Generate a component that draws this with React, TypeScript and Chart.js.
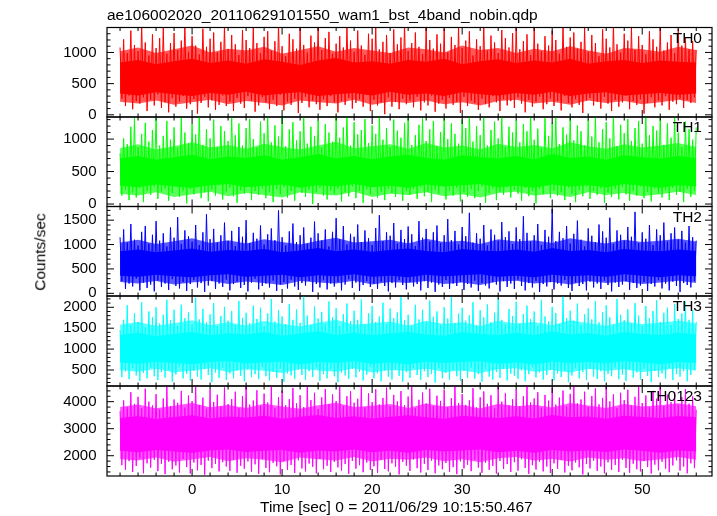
import React, { useEffect, useRef } from "react";
import { Chart, registerables } from "chart.js";

Chart.register(...registerables);

// ---------- data ----------
const titleText = "ae106002020_20110629101550_wam1_bst_4band_nobin.qdp";
const xLabelText = "Time [sec] 0 = 2011/06/29 10:15:50.467";
const yLabelText = "Counts/sec";

const seriesNames = ["TH0", "TH1", "TH2", "TH3", "TH0123"];
const seriesColors = ["#ff0000", "#00ff00", "#0000ff", "#00ffff", "#ff00ff"];
const seriesFringe = ["rgba(255,0,0,0.65)", "rgba(0,255,0,0.65)", "rgba(0,0,255,0.65)", "rgba(0,255,255,0.65)", "rgba(255,0,255,0.65)"];

// light-curve samples: start time and bin width (sec)
const traceStart = -8;
const traceBin = 0.2;
const bandBin = 2;

const th0Trace = [
  1080, 260, 1210, 140, 990, 310, 1350, 90, 1120, 220, 1020, 180, 1440, 280, 1160, 60, 950, 240, 1290, 150,
  1070, 330, 1230, 110, 1400, 200, 980, 40, 1150, 270, 1310, 130, 1040, 210, 1190, 300, 1460, 100, 1010, 170,
  1260, 250, 1110, 20, 970, 190, 1380, 290, 1090, 120, 1220, 230, 1320, 80, 1000, 160, 1170, 310, 1430, 140,
  1050, 210, 1280, 60, 1130, 270, 960, 180, 1360, 110, 1200, 300, 1070, 230, 1410, 50, 1150, 150, 990, 280,
  1250, 200, 1340, 90, 1030, 240, 1180, 140, 1450, 320, 1100, 70, 940, 210, 1300, 160, 1210, 260, 1060, 30,
  1390, 190, 1120, 290, 1000, 120, 1270, 230, 1160, 170, 1420, 80, 1040, 250, 1230, 140, 1330, 300, 980, 200,
  1140, 40, 1260, 220, 1080, 160, 1440, 270, 1190, 100, 1010, 190, 1350, 250, 1110, 130, 960, 320, 1300, 60,
  1220, 240, 1400, 150, 1050, 200, 1170, 10, 1280, 280, 990, 130, 1370, 210, 1130, 90, 1240, 260, 1460, 170,
  1020, 230, 1150, 120, 1320, 290, 1090, 70, 970, 200, 1410, 150, 1200, 310, 1060, 50, 1290, 180, 1140, 240,
  1380, 100, 1000, 270, 1250, 160, 1120, 210, 1430, 30, 1070, 290, 1190, 140, 1340, 230, 950, 190, 1210, 80,
  1100, 260, 1450, 170, 1030, 120, 1270, 300, 1160, 200, 990, 60, 1360, 250, 1230, 150, 1080, 220, 1310, 110,
  1420, 280, 1050, 180, 1180, 40, 1290, 240, 960, 130, 1390, 210, 1140, 290, 1020, 90, 1260, 170, 1110, 260,
  1350, 140, 1200, 220, 980, 70, 1440, 300, 1090, 190, 1240, 120, 1320, 250, 1060, 160, 1170, 30, 1400, 230,
  1010, 270, 1280, 150, 1150, 210, 940, 100, 1370, 290, 1220, 180, 1080, 60, 1460, 240, 1130, 130, 1000, 200,
  1300, 310, 1190, 90, 1410, 220, 1040, 160, 1260, 250, 1120, 20, 970, 190, 1340, 280, 1210, 120, 1090, 230,
  1430, 150, 1030, 300, 1160, 80, 1280, 210, 990, 170, 1380, 260, 1110, 110, 1240, 240, 1050, 190, 1180, 280,
  1040,
];
const th1Trace = [
  780, 130, 1010, 220, 920, 60, 1190, 180, 1320, 100, 880, 250, 1080, 30, 1250, 200, 960, 140, 1140, 270,
  1360, 80, 900, 190, 1050, 240, 1280, 50, 990, 170, 1180, 280, 860, 110, 1330, 210, 1100, 10, 940, 230,
  1230, 150, 1070, 260, 1390, 90, 910, 180, 1150, 40, 1010, 220, 1300, 130, 880, 290, 1200, 70, 1120, 190,
  970, 250, 1350, 120, 1060, 20, 1240, 210, 900, 160, 1170, 270, 1310, 60, 1000, 200, 870, 140, 1270, 240,
  1090, 90, 1380, 180, 950, 30, 1210, 230, 1040, 150, 1330, 260, 890, 100, 1150, 200, 1260, 50, 980, 280,
  1120, 170, 1370, 110, 930, 220, 1190, 0, 1050, 190, 1290, 250, 870, 130, 1230, 70, 1100, 210, 960, 160,
  1340, 240, 1020, 40, 1180, 180, 1400, 120, 900, 270, 1260, 90, 1070, 200, 1140, 20, 1310, 230, 940, 150,
  1210, 260, 1080, 100, 1360, 190, 990, 60, 1170, 240, 880, 170, 1300, 110, 1130, 280, 1020, 50, 1250, 200,
  1380, 140, 910, 230, 1060, 80, 1220, 260, 1320, 120, 970, 190, 1150, 30, 1280, 220, 890, 160, 1110, 270,
  1350, 70, 1000, 210, 1240, 130, 1080, 250, 930, 40, 1300, 180, 1170, 110, 1390, 230, 960, 90, 1200, 200,
  1060, 270, 1330, 20, 900, 170, 1140, 240, 1270, 60, 1010, 190, 1370, 140, 880, 260, 1190, 100, 1100, 220,
  1290, 160, 950, 50, 1230, 250, 1120, 120, 1400, 200, 990, 10, 1160, 230, 870, 150, 1320, 280, 1050, 90,
  1250, 210, 1380, 130, 920, 180, 1180, 60, 1070, 250, 1340, 160, 980, 30, 1210, 220, 1120, 120, 900, 270,
  1300, 80, 1040, 200, 1360, 140, 950, 240, 1150, 20, 1260, 180, 1010, 110, 1390, 230, 890, 70, 1220, 260,
  1090, 150, 1310, 50, 970, 210, 1170, 130, 1280, 270, 930, 90, 1350, 190, 1060, 40, 1200, 240, 1130, 160,
  1370, 100, 910, 220, 1240, 60, 1020, 250, 1330, 140, 1100, 190, 880, 30, 1270, 230, 1150, 110, 990, 200,
  1180,
];
const th2Trace = [
  1150, 250, 1310, 90, 1040, 200, 1420, 140, 1100, 300, 980, 60, 1260, 220, 1380, 110, 1020, 180, 1200, 40,
  1480, 260, 1080, 130, 1230, 200, 960, 70, 1350, 290, 1140, 150, 1560, 100, 1010, 230, 1290, 50, 1170, 190,
  1060, 270, 1400, 120, 990, 210, 1250, 30, 1620, 160, 1110, 250, 1320, 90, 1040, 200, 1190, 130, 1450, 280,
  1070, 60, 1280, 190, 970, 240, 1360, 110, 1160, 170, 1500, 40, 1030, 220, 1240, 300, 1120, 80, 1390, 150,
  1000, 200, 1210, 120, 1330, 260, 1090, 50, 1700, 180, 1150, 230, 980, 100, 1270, 280, 1430, 140, 1050, 70,
  1190, 210, 1350, 160, 1020, 250, 1140, 30, 1470, 190, 1230, 120, 1080, 270, 1310, 80, 960, 200, 1260, 140,
  1540, 230, 1110, 60, 1380, 180, 1000, 290, 1220, 110, 1160, 220, 1410, 50, 1050, 170, 1290, 250, 1130, 130,
  990, 200, 1340, 90, 1600, 240, 1070, 150, 1250, 40, 1180, 210, 1440, 120, 1020, 270, 1300, 170, 1110, 80,
  1370, 230, 1210, 140, 970, 190, 1480, 60, 1140, 250, 1320, 110, 1060, 220, 1250, 30, 1390, 180, 1030, 130,
  1190, 270, 1520, 90, 1090, 200, 1280, 150, 1000, 240, 1360, 70, 1170, 190, 1650, 120, 1040, 260, 1230, 50,
  1120, 210, 1400, 160, 980, 100, 1310, 230, 1200, 180, 1080, 40, 1460, 250, 1150, 130, 1270, 200, 1010, 90,
  1350, 280, 1110, 150, 1580, 60, 1240, 210, 1060, 120, 1190, 250, 1420, 30, 990, 190, 1300, 140, 1160, 230,
  1730, 80, 1070, 200, 1260, 160, 1130, 270, 1380, 110, 1020, 50, 1220, 220, 1490, 150, 1100, 190, 960, 60,
  1330, 240, 1180, 120, 1050, 200, 1410, 90, 1270, 260, 1140, 170, 1550, 40, 1010, 220, 1290, 130, 1200, 180,
  1080, 250, 1360, 70, 1160, 210, 1670, 110, 1030, 160, 1250, 230, 1120, 50, 1400, 190, 990, 140, 1310, 270,
  1190, 100, 1450, 200, 1060, 60, 1230, 240, 1350, 150, 1100, 30, 1280, 210, 1040, 170, 1380, 120, 1150, 250,
  1080,
];
const th3Trace = [
  1450, 330, 1700, 470, 2050, 280, 1580, 540, 1860, 370, 1650, 240, 2120, 430, 1520, 300, 1900, 560, 1760, 350,
  2000, 260, 1610, 450, 1820, 320, 2180, 500, 1690, 220, 1940, 390, 1560, 580, 2060, 300, 1740, 410, 1880, 250,
  1590, 480, 2230, 340, 1710, 270, 1960, 520, 1640, 380, 1830, 210, 2100, 440, 1550, 310, 1790, 550, 2010, 260,
  1680, 420, 1910, 300, 1570, 490, 2150, 360, 1750, 230, 1870, 510, 1620, 330, 2040, 400, 1720, 280, 1990, 570,
  1540, 350, 1850, 250, 2200, 460, 1660, 310, 1930, 540, 1780, 220, 1600, 420, 2080, 370, 1700, 290, 1950, 500,
  1630, 380, 2270, 260, 1800, 470, 1570, 330, 2020, 560, 1730, 240, 1890, 400, 1610, 300, 2140, 520, 1760, 350,
  1980, 210, 1550, 440, 1840, 370, 2090, 290, 1670, 530, 1920, 320, 1700, 460, 2190, 250, 1590, 390, 1860, 580,
  2030, 300, 1650, 420, 1780, 230, 2110, 490, 1600, 340, 1970, 270, 1740, 510, 1880, 360, 2240, 220, 1690, 450,
  1820, 310, 1560, 550, 2060, 380, 1710, 260, 1940, 470, 1640, 330, 2160, 410, 1770, 200, 1900, 540, 1580, 300,
  2000, 430, 1730, 270, 2250, 500, 1620, 350, 1850, 240, 1990, 480, 1680, 310, 1810, 560, 2120, 290, 1570, 400,
  1930, 220, 1760, 520, 2070, 340, 1640, 270, 1870, 450, 2210, 310, 1700, 530, 1590, 250, 1960, 410, 1790, 360,
  2130, 290, 1610, 490, 1840, 230, 2040, 400, 1720, 560, 1900, 320, 1550, 440, 2180, 270, 1780, 380, 1660, 510,
  2010, 250, 1860, 420, 1600, 330, 2260, 480, 1740, 210, 1920, 370, 1680, 540, 2090, 300, 1570, 450, 1830, 260,
  1970, 520, 1710, 340, 2150, 290, 1640, 470, 1880, 230, 2050, 410, 1760, 350, 1590, 560, 2200, 280, 1820, 390,
  1690, 240, 1950, 500, 1620, 320, 2100, 440, 1800, 270, 1560, 530, 2030, 360, 1740, 210, 1910, 480, 2170, 330,
  1650, 420, 1870, 290, 1990, 550, 1580, 260, 2080, 400, 1720, 340, 1850, 470, 2140, 230, 1700, 380, 1930, 510,
  1650,
];
const th0123Trace = [
  3650, 1650, 4050, 1480, 3800, 1800, 4350, 1400, 3920, 1620, 4180, 1900, 3750, 1350, 4480, 1720, 4000, 1560, 3860, 1850,
  4280, 1430, 3720, 1700, 4120, 1320, 4560, 1780, 3840, 1500, 4080, 1640, 3960, 1380, 4400, 1880, 3780, 1580, 4230, 1340,
  4020, 1750, 4600, 1460, 3880, 1660, 4150, 1300, 3740, 1820, 4450, 1540, 3990, 1700, 4260, 1420, 3820, 1760, 4530, 1600,
  3910, 1440, 4100, 1860, 4370, 1370, 3770, 1630, 4210, 1520, 4620, 1790, 3890, 1410, 4040, 1680, 4420, 1330, 3850, 1870,
  4300, 1550, 3970, 1390, 4570, 1740, 3760, 1610, 4170, 1310, 4410, 1800, 3870, 1470, 4090, 1660, 4510, 1360, 3940, 1830,
  4240, 1530, 3800, 1420, 4640, 1710, 4060, 1590, 4330, 1350, 3730, 1880, 4160, 1500, 4470, 1630, 3910, 1400, 4270, 1770,
  4020, 1570, 4550, 1450, 3850, 1690, 4200, 1330, 4390, 1810, 3960, 1520, 4110, 1650, 4600, 1390, 3790, 1750, 4310, 1480,
  3980, 1610, 4460, 1360, 3900, 1840, 4140, 1510, 4520, 1420, 3830, 1720, 4250, 1590, 4010, 1310, 4390, 1770, 3870, 1630,
  4190, 1440, 4580, 1860, 3770, 1540, 4070, 1380, 4340, 1700, 3930, 1470, 4480, 1820, 3840, 1350, 4220, 1640, 4030, 1500,
  4430, 1730, 3800, 1410, 4130, 1580, 4610, 1320, 3950, 1790, 4280, 1530, 3880, 1670, 4050, 1430, 4500, 1850, 3790, 1560,
  4160, 1370, 4380, 1740, 3920, 1480, 4240, 1620, 3760, 1340, 4540, 1810, 4000, 1510, 4310, 1690, 3860, 1400, 4090, 1760,
  4460, 1450, 3830, 1870, 4200, 1550, 4590, 1330, 3970, 1650, 4120, 1490, 4350, 1780, 3780, 1420, 4250, 1600, 4040, 1360,
  4520, 1720, 3890, 1520, 4150, 1840, 4410, 1380, 3820, 1630, 4290, 1460, 4630, 1750, 3940, 1570, 4080, 1310, 4370, 1690,
  3810, 1530, 4210, 1820, 4490, 1440, 3900, 1600, 4140, 1350, 4560, 1760, 4010, 1480, 4270, 1660, 3770, 1400, 4330, 1850,
  4060, 1550, 4440, 1370, 3860, 1710, 4180, 1500, 4600, 1420, 3950, 1800, 4230, 1580, 3800, 1340, 4400, 1670, 4110, 1460,
  4530, 1780, 3840, 1520, 4260, 1390, 3980, 1640, 4360, 1830, 3890, 1450, 4170, 1600, 4470, 1350, 3930, 1720, 4200, 1540,
  3700,
];

// dense core of each light curve (upper / lower edge, every 2 s)
const th0CoreHi = [840, 880, 810, 860, 900, 830, 870, 820, 890, 850, 800, 870, 910, 840, 860, 820, 880, 850, 900, 810, 860, 890, 830, 870, 840, 900, 820, 860, 880, 830, 870, 850, 840];
const th0CoreLo = [340, 310, 360, 330, 300, 350, 320, 370, 310, 340, 360, 300, 330, 350, 310, 370, 320, 340, 300, 360, 330, 310, 350, 320, 370, 300, 340, 360, 310, 330, 350, 320, 340];
const th1CoreHi = [700, 740, 680, 720, 760, 690, 730, 710, 750, 680, 720, 770, 700, 740, 690, 730, 760, 710, 680, 750, 720, 700, 740, 690, 770, 710, 730, 680, 750, 720, 700, 740, 710];
const th1CoreLo = [280, 260, 300, 270, 250, 290, 310, 260, 280, 300, 250, 290, 270, 310, 260, 280, 250, 300, 270, 290, 310, 260, 280, 250, 300, 270, 290, 260, 310, 280, 250, 290, 270];
const th2CoreHi = [860, 900, 840, 880, 920, 850, 890, 870, 910, 840, 880, 930, 860, 900, 850, 890, 920, 870, 840, 910, 880, 860, 900, 850, 930, 870, 890, 840, 910, 880, 860, 900, 870];
const th2CoreLo = [360, 340, 380, 350, 330, 370, 390, 340, 360, 380, 330, 370, 350, 390, 340, 360, 330, 380, 350, 370, 390, 340, 360, 330, 380, 350, 370, 340, 390, 360, 330, 370, 350];
const th3CoreHi = [1340, 1390, 1310, 1360, 1410, 1330, 1380, 1350, 1400, 1320, 1370, 1420, 1340, 1390, 1330, 1370, 1410, 1350, 1320, 1400, 1360, 1340, 1390, 1330, 1420, 1350, 1380, 1320, 1400, 1360, 1340, 1390, 1350];
const th3CoreLo = [680, 650, 700, 670, 640, 690, 710, 660, 680, 700, 640, 690, 670, 710, 650, 680, 640, 700, 670, 690, 710, 650, 680, 640, 700, 670, 690, 660, 710, 680, 640, 690, 670];
const th0123CoreHi = [3400, 3470, 3360, 3430, 3500, 3380, 3450, 3410, 3480, 3370, 3440, 3510, 3400, 3460, 3380, 3440, 3500, 3420, 3370, 3480, 3430, 3400, 3460, 3380, 3510, 3420, 3450, 3370, 3480, 3430, 3400, 3470, 3420];
const th0123CoreLo = [2180, 2130, 2210, 2160, 2110, 2190, 2230, 2140, 2180, 2210, 2110, 2190, 2160, 2230, 2130, 2180, 2110, 2210, 2160, 2190, 2230, 2130, 2180, 2110, 2210, 2160, 2190, 2140, 2230, 2180, 2110, 2190, 2160];

// looser fringe around the core (upper / lower edge, every 2 s)
const th0MidHi = [1020, 1080, 990, 1050, 1110, 1000, 1060, 1030, 1090, 980, 1040, 1100, 1010, 1070, 1030, 990, 1080, 1050, 1000, 1110, 1040, 1070, 990, 1060, 1020, 1100, 1030, 980, 1070, 1050, 1010, 1090, 1040];
const th0MidLo = [210, 180, 230, 160, 200, 240, 170, 220, 190, 150, 230, 200, 180, 240, 160, 210, 190, 230, 170, 200, 150, 220, 240, 180, 210, 160, 230, 190, 220, 170, 200, 240, 190];
const th1MidHi = [860, 920, 840, 890, 950, 870, 910, 850, 930, 880, 840, 900, 960, 860, 890, 920, 850, 940, 870, 900, 840, 930, 880, 910, 860, 950, 890, 850, 920, 870, 900, 940, 880];
const th1MidLo = [160, 130, 180, 110, 150, 190, 120, 170, 140, 100, 180, 150, 130, 190, 110, 160, 140, 180, 120, 150, 100, 170, 190, 130, 160, 110, 180, 140, 170, 120, 150, 190, 140];
const th2MidHi = [1040, 1100, 1010, 1070, 1130, 1030, 1090, 1020, 1110, 1050, 1000, 1080, 1140, 1040, 1070, 1100, 1020, 1120, 1050, 1080, 1010, 1110, 1060, 1090, 1030, 1130, 1070, 1020, 1100, 1050, 1080, 1120, 1060];
const th2MidLo = [230, 200, 250, 180, 220, 260, 190, 240, 210, 170, 250, 220, 200, 260, 180, 230, 210, 250, 190, 220, 170, 240, 260, 200, 230, 180, 250, 210, 240, 190, 220, 260, 210];
const th3MidHi = [1580, 1650, 1550, 1620, 1690, 1570, 1640, 1560, 1670, 1600, 1540, 1630, 1700, 1580, 1620, 1660, 1560, 1680, 1600, 1640, 1550, 1670, 1610, 1650, 1570, 1690, 1620, 1560, 1660, 1600, 1630, 1680, 1610];
const th3MidLo = [500, 460, 530, 440, 490, 540, 450, 520, 480, 430, 530, 490, 460, 540, 440, 500, 480, 530, 450, 490, 430, 520, 540, 460, 500, 440, 530, 480, 520, 450, 490, 540, 480];
const th0123MidHi = [3800, 3900, 3760, 3850, 3950, 3790, 3880, 3770, 3920, 3820, 3740, 3870, 3960, 3800, 3850, 3910, 3770, 3930, 3820, 3880, 3750, 3920, 3830, 3890, 3780, 3950, 3860, 3770, 3910, 3820, 3870, 3940, 3830];
const th0123MidLo = [1880, 1820, 1930, 1780, 1860, 1950, 1800, 1910, 1850, 1760, 1930, 1870, 1820, 1950, 1790, 1890, 1850, 1930, 1800, 1870, 1760, 1910, 1950, 1820, 1880, 1790, 1930, 1850, 1910, 1800, 1870, 1950, 1850];

const traces = [th0Trace, th1Trace, th2Trace, th3Trace, th0123Trace];
const coresHi = [th0CoreHi, th1CoreHi, th2CoreHi, th3CoreHi, th0123CoreHi];
const coresLo = [th0CoreLo, th1CoreLo, th2CoreLo, th3CoreLo, th0123CoreLo];
const midsHi = [th0MidHi, th1MidHi, th2MidHi, th3MidHi, th0123MidHi];
const midsLo = [th0MidLo, th1MidLo, th2MidLo, th3MidLo, th0123MidLo];

// axes
const xMin = -9.45;
const xMax = 57.75;
const xMajorTicks = [0, 10, 20, 30, 40, 50];
const xMinorTicks = [-8, -6, -4, -2, 2, 4, 6, 8, 12, 14, 16, 18, 22, 24, 26, 28, 32, 34, 36, 38, 42, 44, 46, 48, 52, 54, 56];

const yMins = [-35, -38, -55, 117, 1250];
const yMaxs = [1400, 1340, 1780, 2270, 4580];
const th0YTicks = [0, 500, 1000];
const th1YTicks = [0, 500, 1000];
const th2YTicks = [0, 500, 1000, 1500];
const th3YTicks = [500, 1000, 1500, 2000];
const th0123YTicks = [2000, 3000, 4000];
const yTicksList = [th0YTicks, th1YTicks, th2YTicks, th3YTicks, th0123YTicks];
const yMinorSteps = [100, 100, 100, 100, 200];

// ---------- layout ----------
const W = 717;
const H = 516;
const panelEdges = [27.5, 117, 206.5, 296, 386, 476];
const plotLeft = 107;
const plotRight = 712;
const FONT = "'Liberation Sans', Arial, Helvetica, sans-serif";

const framePlugin = {
  id: "qdpFrame",
  afterDraw(chart: any, _args: any, opts: any) {
    const { ctx, chartArea: a, scales } = chart;
    const xs = scales.x;
    const ys = scales.y;
    const major = 7;
    const minor = 3.5;
    ctx.save();
    ctx.strokeStyle = "#000";
    ctx.lineWidth = 1;
    ctx.beginPath();
    const vTick = (v: number, len: number) => {
      const px = xs.getPixelForValue(v);
      ctx.moveTo(px, a.top);
      ctx.lineTo(px, a.top + len);
      ctx.moveTo(px, a.bottom);
      ctx.lineTo(px, a.bottom - len);
    };
    const hTick = (v: number, len: number) => {
      const py = ys.getPixelForValue(v);
      if (py < a.top - 0.5 || py > a.bottom + 0.5) return;
      ctx.moveTo(a.left, py);
      ctx.lineTo(a.left + len, py);
      ctx.moveTo(a.right, py);
      ctx.lineTo(a.right - len, py);
    };
    xMinorTicks.forEach((v) => vTick(v, minor));
    xMajorTicks.forEach((v) => vTick(v, major));
    const step = opts.minorStep;
    const start = Math.ceil(ys.min / step) * step;
    for (let v = start; v <= ys.max; v += step) {
      const isMajor = opts.majors.includes(v) || v % (step * 5) === 0;
      hTick(v, isMajor ? major : minor);
    }
    ctx.stroke();
    ctx.lineWidth = 1.2;
    ctx.strokeRect(a.left, a.top, a.right - a.left, a.bottom - a.top);
    ctx.restore();
  },
};

function Panel({ index }: { index: number }) {
  const ref = useRef<HTMLCanvasElement | null>(null);
  useEffect(() => {
    if (!ref.current) return;
    const isBottom = index === traces.length - 1;
    const color = seriesColors[index];
    const fringe = seriesFringe[index];
    const toPts = (arr: number[], bin: number) => arr.map((y, i) => ({ x: traceStart + i * bin, y }));
    const top = panelEdges[index];
    const bottom = panelEdges[index + 1];
    const xAxisH = 40;
    const base = { pointRadius: 0, tension: 0, clip: 0 };
    const chart = new Chart(ref.current, {
      type: "line",
      data: {
        datasets: [
          { ...base, data: toPts(traces[index], traceBin), borderColor: color, borderWidth: 1, fill: false, order: 0 },
          { ...base, data: toPts(coresHi[index], bandBin), borderWidth: 0, borderColor: color, backgroundColor: color, fill: "+1", order: 1 },
          { ...base, data: toPts(coresLo[index], bandBin), borderWidth: 0, borderColor: color, fill: false, order: 1 },
          { ...base, data: toPts(midsHi[index], bandBin), borderWidth: 0, borderColor: fringe, backgroundColor: fringe, fill: "+1", order: 3 },
          { ...base, data: toPts(midsLo[index], bandBin), borderWidth: 0, borderColor: fringe, fill: false, order: 3 },
        ],
      } as any,
      options: {
        animation: false,
        responsive: false,
        maintainAspectRatio: false,
        events: [],
        layout: {
          padding: {
            left: 27,
            right: W - plotRight,
            top: top,
            bottom: isBottom ? H - bottom - xAxisH : H - bottom,
          },
        },
        plugins: {
          legend: { display: false },
          tooltip: { enabled: false },
          title: { display: false },
          qdpFrame: { minorStep: yMinorSteps[index], majors: yTicksList[index] },
        } as any,
        scales: {
          x: {
            type: "linear",
            min: xMin,
            max: xMax,
            display: isBottom,
            grid: { display: false, drawTicks: false },
            border: { display: false },
            ticks: {
              autoSkip: false,
              maxRotation: 0,
              padding: 5,
              color: "#000",
              font: { family: FONT, size: 15 },
              callback: (v: any) => String(v),
            },
            afterBuildTicks: (s: any) => {
              s.ticks = xMajorTicks.map((v) => ({ value: v }));
            },
            afterFit: (s: any) => {
              s.height = isBottom ? xAxisH : 0;
            },
          },
          y: {
            type: "linear",
            min: yMins[index],
            max: yMaxs[index],
            grid: { display: false, drawTicks: false },
            border: { display: false },
            ticks: {
              padding: 10.5,
              color: "#000",
              font: { family: FONT, size: 15 },
              callback: (v: any) => String(v),
            },
            afterBuildTicks: (s: any) => {
              s.ticks = yTicksList[index].map((v) => ({ value: v }));
            },
            afterFit: (s: any) => {
              s.width = plotLeft - 27;
            },
          },
        },
      } as any,
      plugins: [framePlugin as any],
    });
    return () => chart.destroy();
  }, [index]);
  return (
    <canvas
      ref={ref}
      width={W}
      height={H}
      style={{ position: "absolute", left: 0, top: 0, width: W, height: H }}
    />
  );
}

export default function App() {
  const textBase: React.CSSProperties = {
    position: "absolute",
    fontFamily: FONT,
    fontSize: 15.5,
    lineHeight: 1,
    color: "#000",
    whiteSpace: "nowrap",
  };
  return (
    <div style={{ position: "absolute", left: 0, top: 0, width: W, height: H, background: "#fff", overflow: "hidden" }}>
      {traces.map((_, i) => (
        <Panel key={i} index={i} />
      ))}
      <div style={{ ...textBase, left: 107, top: 7 }}>{titleText}</div>
      <div style={{ ...textBase, left: 260, top: 498.5 }}>{xLabelText}</div>
      <div
        style={{
          ...textBase,
          left: 40,
          top: 252,
          transform: "translate(-50%, -50%) rotate(-90deg)",
        }}
      >
        {yLabelText}
      </div>
      {seriesNames.map((name, i) => (
        <div key={name} style={{ ...textBase, right: W - 702, top: panelEdges[i] + 2.2 }}>
          {name}
        </div>
      ))}
    </div>
  );
}
